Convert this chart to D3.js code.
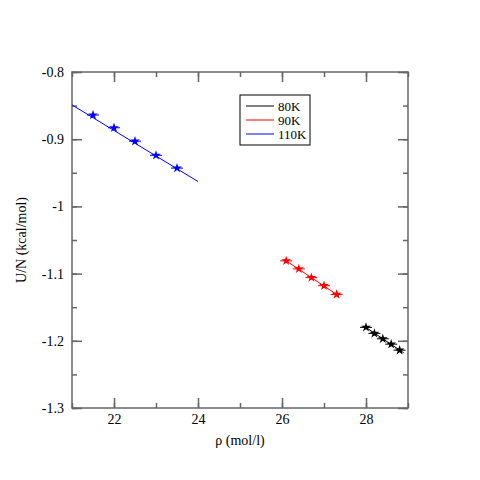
<!DOCTYPE html>
<html><head><meta charset="utf-8">
<script src="https://cdn.jsdelivr.net/npm/d3@7"></script>
<style>body{margin:0;background:#fff}</style></head>
<body><svg id="c" width="480" height="480"></svg>
<script>
// === data ===
const series = ["80K", "90K", "110K"];
const colors = ["#000000", "#ff0000", "#0000ff"];
const rho80 = [28.0, 28.2, 28.4, 28.6, 28.8];
const u80 = [-1.180, -1.189, -1.197, -1.205, -1.214];
const fit80 = [[27.95, -1.178], [28.9, -1.218]];
const rho90 = [26.1, 26.4, 26.7, 27.0, 27.3];
const u90 = [-1.081, -1.093, -1.106, -1.118, -1.131];
const fit90 = [[26.05, -1.079], [27.35, -1.133]];
const rho110 = [21.5, 22.0, 22.5, 23.0, 23.5];
const u110 = [-0.864, -0.883, -0.903, -0.924, -0.943];
const fit110 = [[21.0, -0.849], [24.0, -0.963]];
const xTicks = [22, 24, 26, 28];
const yTicks = [-0.8, -0.9, -1, -1.1, -1.2, -1.3];

const svg = d3.select("#c");
const L = 72, R = 408, T = 72, B = 408;
const x = d3.scaleLinear().domain([21, 29]).range([L, R]);
const y = d3.scaleLinear().domain([-1.3, -0.8]).range([B, T]);
const font = "Liberation Serif, Times New Roman, serif";

svg.append("rect").attr("x", L).attr("y", T).attr("width", R - L).attr("height", B - T)
  .attr("fill", "none").attr("stroke", "#666").attr("stroke-width", 1.5);

function ticks(sel, axis) {
  sel.call(axis);
  sel.select(".domain").remove();
  sel.selectAll("line").attr("stroke", "#666").attr("stroke-width", 1.5);
  sel.selectAll("text").attr("font-family", font).attr("font-size", 14).attr("fill", "#000");
  return sel;
}
const minX = d3.range(21, 30, 1), minY = d3.range(-1.3, -0.79, 0.05);
// inward ticks on all four sides
ticks(svg.append("g").attr("transform", `translate(0,${B})`),
  d3.axisTop(x).tickValues(minX).tickSize(5).tickFormat(""));
ticks(svg.append("g").attr("transform", `translate(0,${B})`),
  d3.axisTop(x).tickValues(xTicks).tickSize(10).tickFormat(""));
ticks(svg.append("g").attr("transform", `translate(0,${T})`),
  d3.axisBottom(x).tickValues(minX).tickSize(5).tickFormat(""));
ticks(svg.append("g").attr("transform", `translate(0,${T})`),
  d3.axisBottom(x).tickValues(xTicks).tickSize(10).tickFormat(""));
ticks(svg.append("g").attr("transform", `translate(${L},0)`),
  d3.axisRight(y).tickValues(minY).tickSize(5).tickFormat(""));
ticks(svg.append("g").attr("transform", `translate(${L},0)`),
  d3.axisRight(y).tickValues(yTicks).tickSize(10).tickFormat(""));
ticks(svg.append("g").attr("transform", `translate(${R},0)`),
  d3.axisLeft(y).tickValues(minY).tickSize(5).tickFormat(""));
ticks(svg.append("g").attr("transform", `translate(${R},0)`),
  d3.axisLeft(y).tickValues(yTicks).tickSize(10).tickFormat(""));
// labels only
ticks(svg.append("g").attr("transform", `translate(0,${B})`),
  d3.axisBottom(x).tickValues(xTicks).tickSize(0).tickPadding(6).tickFormat(d3.format("d")))
  .selectAll("line").remove();
ticks(svg.append("g").attr("transform", `translate(${L},0)`),
  d3.axisLeft(y).tickValues(yTicks).tickSize(0).tickPadding(8).tickFormat(d => String(+d.toFixed(1))))
  .selectAll("line").remove();

svg.append("text").attr("x", (L + R) / 2).attr("y", 445).attr("text-anchor", "middle")
  .attr("font-family", font).attr("font-size", 14).text("ρ (mol/l)");
svg.append("text").attr("transform", `translate(26,${(T + B) / 2}) rotate(-90)`)
  .attr("text-anchor", "middle").attr("font-family", font).attr("font-size", 14).text("U/N (kcal/mol)");

const sets = [[rho80, u80, fit80], [rho90, u90, fit90], [rho110, u110, fit110]];
const line = d3.line().x(d => x(d[0])).y(d => y(d[1]));
sets.forEach(([r, u, fit], i) => {
  const c = colors[i];
  svg.append("path").attr("d", line(fit)).attr("stroke", c).attr("fill", "none").attr("stroke-width", 1);
  const pts = r.map((v, j) => [v, u[j]]);
  const g = svg.append("g").selectAll("g").data(pts).join("g")
    .attr("transform", d => `translate(${x(d[0])},${y(d[1])})`);
  g.append("line").attr("x1", -6).attr("x2", 6).attr("stroke", c).attr("stroke-width", 1);
  g.append("path").attr("d", d3.symbol(d3.symbolStar, 30)).attr("fill", c);
});

// legend
const lg = svg.append("g").attr("transform", "translate(240,95)");
lg.append("rect").attr("width", 70).attr("height", 50).attr("fill", "#fff")
  .attr("stroke", "#000").attr("stroke-width", 1);
series.forEach((s, i) => {
  lg.append("line").attr("x1", 6).attr("x2", 34).attr("y1", 11 + i * 14).attr("y2", 11 + i * 14)
    .attr("stroke", colors[i]);
  lg.append("text").attr("x", 38).attr("y", 16 + i * 14).attr("font-family", font)
    .attr("font-size", 13).text(s);
});
</script></body></html>
